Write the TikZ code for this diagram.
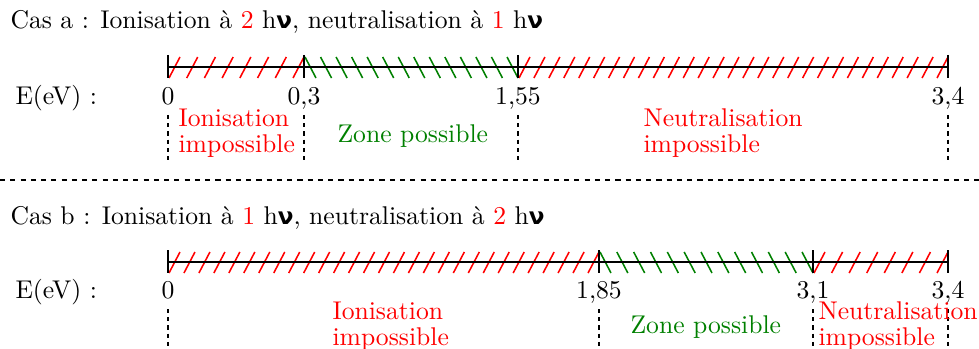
\documentclass[tikz,border=0pt]{standalone}
\usepackage{fontspec}
\newfontfamily\grecque[Scale=0.9]{DejaVu Sans}
\usetikzlibrary{positioning}
\definecolor{vertzone}{RGB}{0,128,0}
\newcommand{\hnu}{h{\grecque\bfseries ν}}
% hachures : debut, fin, nombre-1, couleur, sens (1 = /, -1 = \)
\newcommand{\hachures}[5]{%
  \foreach \k in {0,...,#3}{
    \pgfmathsetmacro{\xh}{#1+1+\k*(#2-#1-12)/#3}
    \draw[hachure, #4] (\xh,{67.5+#5*10.5}) -- ++(11,{-#5*21});
  }}

\begin{document}
\begin{tikzpicture}[
  x=0.39pt, y=-0.39pt,
  axe/.style={black, line width=0.8pt},
  hachure/.style={line width=0.6pt},
  pointille/.style={black, line width=0.8pt, dash pattern=on 1.6pt off 1.6pt},
  separation/.style={black, line width=0.6pt, dash pattern=on 2pt off 2pt},
  texte/.style={inner sep=0pt, font=\fontsize{10pt}{9.8pt}\selectfont},
  titre/.style={texte, anchor=base west},
  valeur/.style={texte, anchor=base},
  zone/.style={texte, anchor=base west, align=left}
]
\useasboundingbox (0,0) rectangle (979,349);

% Cas a
\node[titre] (titreA) at (10,29) {Cas a : Ionisation à \textcolor{red}{2} \hnu, neutralisation à \textcolor{red}{1} \hnu};
\node[titre] (energieA) at (15,105) {E(eV) :};
\coordinate (a0) at (168,67);
\coordinate (a1) at (304,67);
\coordinate (a2) at (518,67);
\coordinate (a3) at (948,67);
\hachures{168}{304}{7}{red}{1}
\hachures{304}{518}{13}{vertzone}{-1}
\hachures{518}{948}{28}{red}{1}
\draw[axe] (a0) -- (a3);
\foreach \c in {a0,a1,a2,a3}{
  \draw[axe] (\c) ++(0,-12) -- ++(0,23);
  \draw[pointille] (\c) ++(0,48) -- ++(0,45);
}
\node[valeur] (va0) at (168,105) {0};
\node[valeur] (va1) at (304,105) {0,3};
\node[valeur] (va2) at (518,105) {1,55};
\node[valeur] (va3) at (948,105) {3,4};
\node[zone, red] (ionA) at (178,152) {Ionisation\\impossible};
\node[zone, vertzone] (possA) at (337,142) {Zone possible};
\node[zone, red] (neutA) at (643,152) {Neutralisation\\impossible};

\draw[separation] (0,180) -- (979,180);

% Cas b
\begin{scope}[shift={(0,195)}]
\node[titre] (titreB) at (10,29) {Cas b : Ionisation à \textcolor{red}{1} \hnu, neutralisation à \textcolor{red}{2} \hnu};
\node[titre] (energieB) at (15,103) {E(eV) :};
\coordinate (b0) at (168,67);
\coordinate (b1) at (599,67);
\coordinate (b2) at (813,67);
\coordinate (b3) at (948,67);
\hachures{168}{599}{28}{red}{1}
\hachures{599}{813}{12}{vertzone}{-1}
\hachures{813}{948}{7}{red}{1}
\draw[axe] (b0) -- (b3);
\foreach \c in {b0,b1,b2,b3}{
  \draw[axe] (\c) ++(0,-12) -- ++(0,23);
  \draw[pointille] (\c) ++(0,47) -- ++(0,45);
}
\node[valeur] (vb0) at (168,103) {0};
\node[valeur] (vb1) at (599,103) {1,85};
\node[valeur] (vb2) at (813,103) {3,1};
\node[valeur] (vb3) at (948,103) {3,4};
\node[zone, red] (ionB) at (332,150) {Ionisation\\impossible};
\node[zone, vertzone] (possB) at (630,138) {Zone possible};
\node[zone, red] (neutB) at (818,150) {Neutralisation\\impossible};
\end{scope}
\end{tikzpicture}
\end{document}
